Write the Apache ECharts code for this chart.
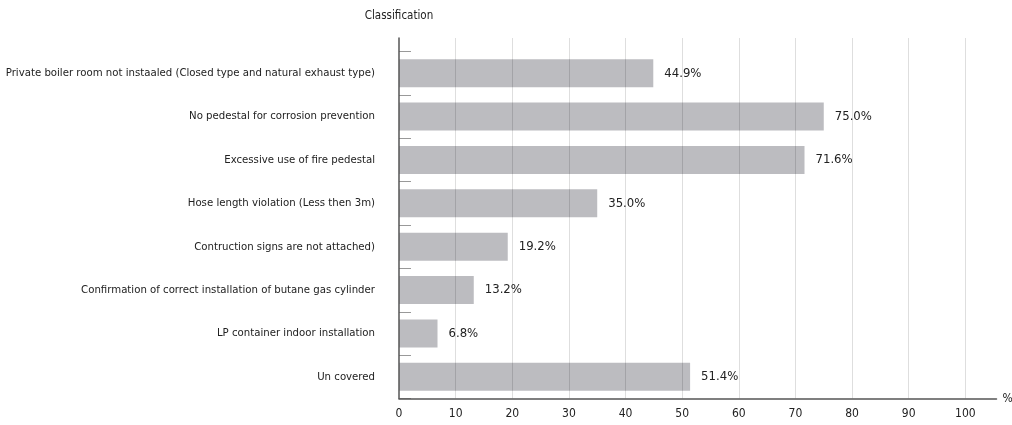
<!DOCTYPE html>
<html>
<head>
<meta charset="utf-8">
<script src="https://cdn.jsdelivr.net/npm/echarts@6/dist/echarts.min.js"></script>
<style>
  html, body { margin: 0; padding: 0; background: #fff; }
  #chart { width: 1012px; height: 425px; }
</style>
</head>
<body>
<div id="chart"></div>
<script>
// Inspection findings by classification (share of sites, %)
const categories = [
  'Private boiler room not instaaled (Closed type and natural exhaust type)',
  'No pedestal for corrosion prevention',
  'Excessive use of fire pedestal',
  'Hose length violation (Less then 3m)',
  'Contruction signs are not attached)',
  'Confirmation of correct installation of butane gas cylinder',
  'LP container indoor installation',
  'Un covered'
];
const values = [44.9, 75.0, 71.6, 35.0, 19.2, 13.2, 6.8, 51.4];
const xTicks = [0, 10, 20, 30, 40, 50, 60, 70, 80, 90, 100];

const FONT = "'DejaVu Sans Condensed', 'Liberation Sans Narrow', 'Roboto', sans-serif";
const X_MAX = 105.5;
const GRID_L = 399, GRID_R = 15.5, GRID_B = 26.5;

const chart = echarts.init(document.getElementById('chart'), null, { renderer: 'canvas' });

chart.setOption({
  backgroundColor: '#ffffff',
  animation: false,
  grid: [
    // bars and category labels
    { left: GRID_L, right: GRID_R, top: 51.5, bottom: GRID_B, containLabel: false, outerBoundsMode: 'none' },
    // frame: grid lines, axes and axis names
    { left: GRID_L, right: GRID_R, top: 38, bottom: GRID_B, containLabel: false, outerBoundsMode: 'none' }
  ],
  xAxis: [
    {
      gridIndex: 0, type: 'value', min: 0, max: X_MAX, interval: 10,
      show: false
    },
    {
      gridIndex: 1, type: 'value', min: 0, max: X_MAX, interval: 10, z: 10,
      name: '%', nameLocation: 'end', nameGap: 6,
      nameTextStyle: { color: '#222', fontSize: 12, fontFamily: FONT, verticalAlign: 'middle' },
      axisLine: { show: true, lineStyle: { color: '#555', width: 1.5 } },
      axisTick: { show: false },
      axisLabel: {
        show: true, color: '#222', fontSize: 12, fontFamily: FONT, margin: 9,
        showMaxLabel: false,
        formatter: v => (xTicks.indexOf(v) >= 0 ? String(v) : '')
      },
      splitLine: { show: true, showMinLine: false, showMaxLine: false, lineStyle: { color: 'rgba(0,0,0,0.13)', width: 1 } }
    }
  ],
  yAxis: [
    {
      gridIndex: 0, type: 'category', data: categories, inverse: true,
      axisLine: { show: false },
      axisTick: { show: true, inside: true, length: 12, lineStyle: { color: '#999', width: 1 } },
      axisLabel: { color: '#222', fontSize: 11.3, fontFamily: FONT, margin: 24 },
      splitLine: { show: false }
    },
    {
      gridIndex: 1, type: 'value', min: 0, max: 1, z: 10,
      name: 'Classification', nameLocation: 'end', nameGap: 16,
      nameTextStyle: { color: '#222', fontSize: 11.5, fontFamily: FONT, align: 'center' },
      axisLine: { show: true, lineStyle: { color: '#555', width: 1.5 } },
      axisTick: { show: false },
      axisLabel: { show: false },
      splitLine: { show: false }
    }
  ],
  series: [
    {
      type: 'bar',
      xAxisIndex: 0, yAxisIndex: 0,
      data: values,
      barWidth: 28,
      itemStyle: { color: '#bcbcc0' },
      label: {
        show: true, position: 'right', distance: 11,
        color: '#222', fontSize: 13, fontFamily: FONT,
        formatter: p => p.value.toFixed(1) + '%'
      }
    }
  ]
});
</script>
</body>
</html>
